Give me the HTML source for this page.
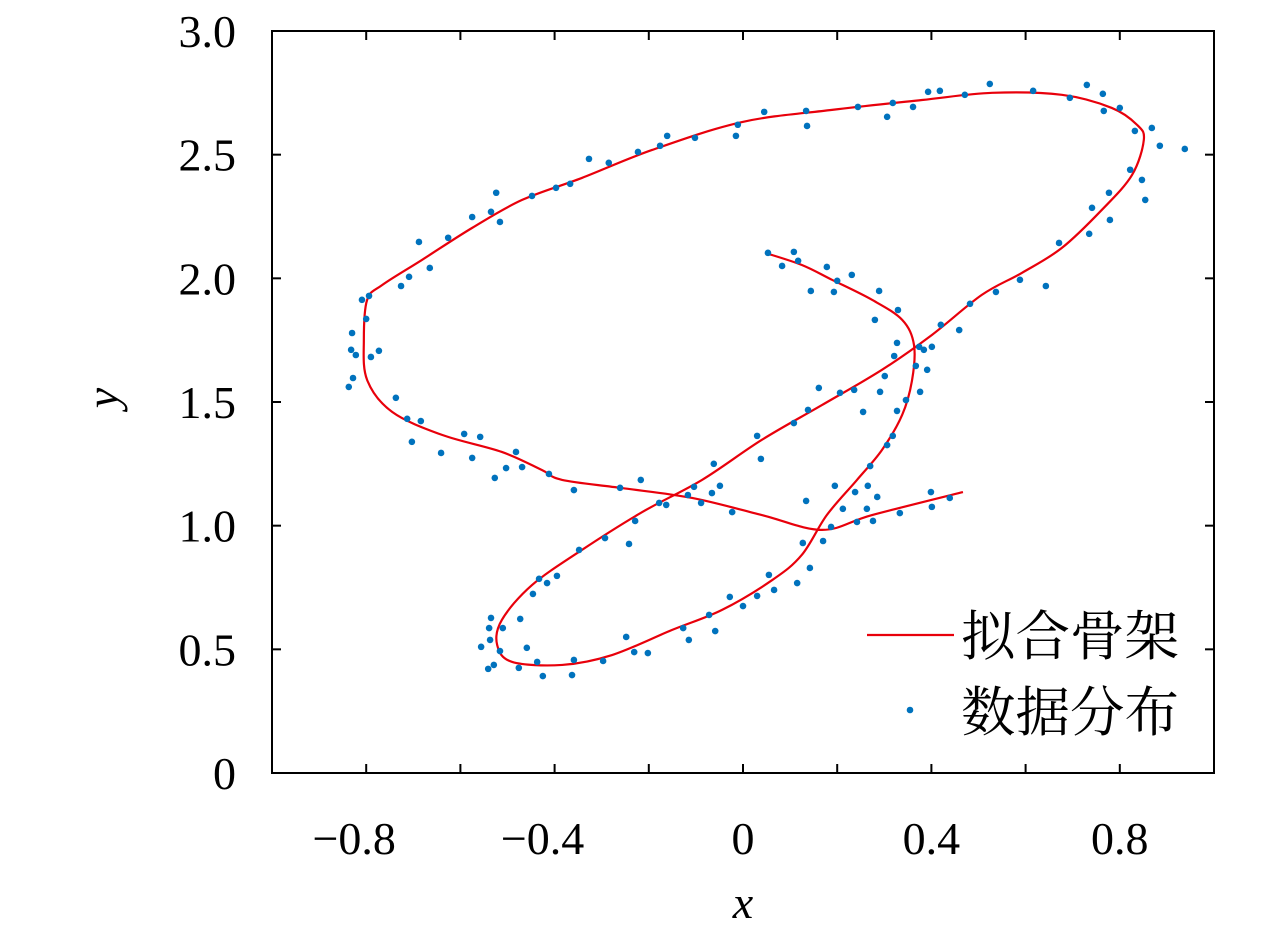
<!DOCTYPE html>
<html><head><meta charset="utf-8">
<style>
html,body{margin:0;padding:0;background:#fff;}
svg{display:block;}
text{font-family:"Liberation Serif","Noto Serif CJK SC",serif;fill:#000;}
</style></head>
<body>
<svg id="chart" width="1280" height="935" viewBox="0 0 1280 935" xmlns="http://www.w3.org/2000/svg">
<g id="grid-layer"></g>
</svg>
<script>
const xTickValues=[-0.8,-0.6,-0.4,-0.2,0,0.2,0.4,0.6,0.8];
const xTickLabels=["\u22120.8","","\u22120.4","","0","","0.4","","0.8"];
const yTickValues=[0,0.5,1.0,1.5,2.0,2.5,3.0];
const yTickLabels=["0","0.5","1.0","1.5","2.0","2.5","3.0"];
const curveX=[0.467,0.274,0.168,0.040,-0.108,-0.257,-0.384,-0.427,-0.512,-0.639,-0.745,-0.798,-0.805,-0.798,-0.766,-0.682,-0.575,-0.469,-0.342,-0.193,-0.002,0.189,0.380,0.529,0.677,0.783,0.837,0.851,0.826,0.762,0.677,0.592,0.507,0.401,0.295,0.168,0.040,-0.087,-0.214,-0.342,-0.448,-0.512,-0.522,-0.490,-0.384,-0.278,-0.151,-0.045,0.062,0.125,0.178,0.242,0.295,0.338,0.359,0.363,0.338,0.274,0.189,0.125,0.047];
const curveY=[1.136,1.043,0.983,1.043,1.112,1.152,1.185,1.225,1.298,1.367,1.460,1.589,1.751,1.913,1.973,2.074,2.204,2.317,2.406,2.519,2.632,2.681,2.721,2.750,2.742,2.689,2.620,2.560,2.418,2.277,2.123,2.022,1.933,1.771,1.630,1.488,1.347,1.185,1.055,0.902,0.760,0.619,0.518,0.449,0.437,0.477,0.578,0.659,0.780,0.882,1.043,1.185,1.306,1.448,1.589,1.731,1.832,1.913,1.994,2.054,2.103];
const pointsX=[0.471,0.418,0.524,0.616,0.694,0.730,0.764,0.766,0.800,0.832,0.868,0.885,0.938,0.854,0.847,0.822,0.777,0.741,0.735,0.779,0.671,0.643,0.588,0.537,0.482,0.459,0.420,0.401,0.374,0.321,0.301,0.329,0.280,0.289,0.231,0.178,0.200,0.193,0.144,0.117,0.083,0.053,0.108,0.236,0.206,0.161,0.138,0.108,0.030,0.038,-0.062,-0.049,-0.066,-0.104,-0.089,-0.023,
-0.830,-0.832,-0.822,-0.837,-0.828,-0.809,-0.794,-0.773,-0.790,-0.800,-0.737,-0.713,-0.684,-0.703,-0.641,-0.575,-0.592,-0.558,-0.527,-0.503,-0.482,-0.469,-0.412,-0.359,-0.261,-0.217,-0.178,-0.726,-0.709,-0.688,-0.665,-0.626,-0.575,-0.535,-0.524,-0.516,-0.448,-0.397,-0.367,-0.327,-0.285,-0.223,-0.176,-0.161,-0.102,-0.015,-0.011,0.045,0.136,0.134,0.244,0.306,0.318,0.361,0.393,
0.195,0.212,0.238,0.187,0.170,0.134,0.127,0.142,0.115,0.066,0.055,0.030,0,-0.028,-0.059,-0.072,-0.127,-0.115,-0.202,-0.231,-0.248,-0.297,-0.359,-0.363,-0.425,-0.437,-0.476,-0.516,-0.529,-0.541,-0.556,-0.537,-0.539,-0.535,-0.510,-0.459,-0.473,-0.446,-0.433,-0.416,-0.395,-0.348,-0.293,-0.242,-0.229,-0.163,-0.117,
0.399,0.439,0.401,0.333,0.276,0.263,0.242,0.285,0.265,0.270,0.306,0.318,0.327,0.346,0.376,0.367,0.391,0.384,0.291,0.255,0.327];
const pointsY=[2.742,2.758,2.786,2.758,2.730,2.782,2.746,2.677,2.689,2.596,2.608,2.536,2.523,2.317,2.398,2.439,2.346,2.285,2.180,2.236,2.143,1.969,1.994,1.945,1.897,1.791,1.812,1.723,1.723,1.686,1.605,1.872,1.832,1.949,2.014,2.046,1.990,1.945,1.949,2.071,2.050,2.103,2.107,1.549,1.537,1.557,1.468,1.415,1.363,1.270,1.250,1.161,1.132,1.157,1.092,1.055,
1.779,1.711,1.690,1.561,1.597,1.913,1.929,1.707,1.682,1.836,1.517,1.432,1.423,1.339,1.294,1.274,1.371,1.359,1.193,1.233,1.298,1.237,1.209,1.144,1.153,1.185,1.092,1.969,2.006,2.147,2.042,2.164,2.248,2.269,2.346,2.228,2.333,2.366,2.382,2.483,2.467,2.511,2.536,2.576,2.568,2.576,2.621,2.673,2.616,2.677,2.693,2.653,2.709,2.693,2.754,
1.161,1.068,1.136,0.995,0.938,1.100,0.930,0.829,0.768,0.740,0.801,0.716,0.675,0.712,0.574,0.639,0.586,0.538,0.485,0.489,0.550,0.453,0.457,0.396,0.392,0.449,0.425,0.493,0.437,0.421,0.510,0.538,0.586,0.627,0.586,0.506,0.623,0.724,0.785,0.768,0.797,0.902,0.950,0.926,1.019,1.084,1.124,
1.136,1.112,1.076,1.051,1.019,1.068,1.015,1.116,1.161,1.241,1.326,1.363,1.464,1.508,1.541,1.646,1.630,1.711,1.541,1.460,1.739];

const L=272,R=1214,T=31,B=773;
const xMin=-1,xMax=1,yMin=0,yMax=3;
function sx(v){return L+(v-xMin)/(xMax-xMin)*(R-L);}
function sy(v){return B-(v-yMin)/(yMax-yMin)*(B-T);}
const NS="http://www.w3.org/2000/svg";
const svg=document.getElementById('chart');
function mk(tag,attrs,parent){const e=document.createElementNS(NS,tag);for(const k in attrs)e.setAttribute(k,attrs[k]);(parent||svg).appendChild(e);return e;}

let d='';
const n=curveX.length;
const P=i=>[sx(curveX[Math.max(0,Math.min(n-1,i))]),sy(curveY[Math.max(0,Math.min(n-1,i))])];
d='M'+P(0).join(',');
for(let i=0;i<n-1;i++){const p0=P(i-1),p1=P(i),p2=P(i+1),p3=P(i+2);
const c1=[p1[0]+(p2[0]-p0[0])/6,p1[1]+(p2[1]-p0[1])/6];
const c2=[p2[0]-(p3[0]-p1[0])/6,p2[1]-(p3[1]-p1[1])/6];
d+=' C'+c1.join(',')+' '+c2.join(',')+' '+p2.join(',');}
const curve=mk('path',{d:d,fill:'none',stroke:'#e8000b','stroke-width':2.2,'stroke-linejoin':'round'});



for(let i=0;i<pointsX.length;i++){
const c=mk('circle',{cx:sx(pointsX[i]),cy:sy(pointsY[i]),r:3.3,fill:'#0072bd'});


}

const frame=mk('rect',{x:L,y:T,width:R-L,height:B-T,fill:'none',stroke:'#000','stroke-width':2});



xTickValues.forEach((v,i)=>{
const x=sx(v);
const t1=mk('line',{x1:x,y1:B,x2:x,y2:B-9,stroke:'#000','stroke-width':2});


const t2=mk('line',{x1:x,y1:T,x2:x,y2:T+9,stroke:'#000','stroke-width':2});


if(xTickLabels[i]){const tx=mk('text',{x:x-(v<0?12:0),y:B+81,'text-anchor':'middle','font-size':46});tx.textContent=xTickLabels[i];

}
});
yTickValues.forEach((v,i)=>{
const y=sy(v);
const t1=mk('line',{x1:L,y1:y,x2:L+9,y2:y,stroke:'#000','stroke-width':2});


const t2=mk('line',{x1:R,y1:y,x2:R-9,y2:y,stroke:'#000','stroke-width':2});


const ty=mk('text',{x:236,y:y+16,'text-anchor':'end','font-size':46});ty.textContent=yTickLabels[i];


});
const xl=mk('text',{x:743,y:918,'text-anchor':'middle','font-size':46,'font-style':'italic'});xl.textContent='x';


const yl=mk('text',{x:0,y:0,'text-anchor':'middle','font-size':46,'font-style':'italic',transform:'translate(118,398) rotate(-90)'});yl.textContent='y';



const lg=mk('g',{});


const ll=mk('line',{x1:867,y1:635,x2:954,y2:635,stroke:'#e8000b','stroke-width':2.2},lg);


const lt1=mk('text',{x:961,y:655,'font-size':54,textLength:218,lengthAdjust:'spacingAndGlyphs'},lg);lt1.textContent='拟合骨架';


const ld=mk('circle',{cx:910,cy:710,r:3.3,fill:'#0072bd'},lg);


const lt2=mk('text',{x:961,y:731,'font-size':54,textLength:218,lengthAdjust:'spacingAndGlyphs'},lg);lt2.textContent='数据分布';


</script>
</body></html>
